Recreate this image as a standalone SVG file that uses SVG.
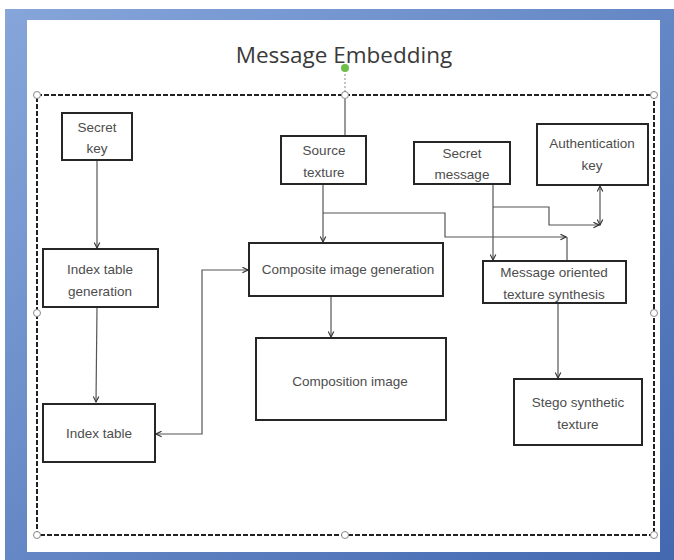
<svg xmlns="http://www.w3.org/2000/svg" width="674" height="560" viewBox="0 0 674 560">
<style>
.box{fill:#fff;stroke:#262626;stroke-width:2}
.t{font-family:"Liberation Sans",Arial,sans-serif;font-size:13.5px;fill:#4d4d4d;text-anchor:middle}
.c{fill:none;stroke:#555;stroke-width:1.2}
.h{fill:#fff;stroke:#888;stroke-width:1}
</style>
<defs>
<linearGradient id="bg" x1="0" y1="0" x2="1" y2="1">
<stop offset="0" stop-color="#86a6da"/>
<stop offset="1" stop-color="#4368b0"/>
</linearGradient>
<marker id="a" viewBox="0 0 10 10" refX="9" refY="5" markerWidth="7" markerHeight="7" orient="auto-start-reverse" markerUnits="userSpaceOnUse">
<path d="M1,1 L9,5 L1,9" fill="none" stroke="#333" stroke-width="1.6"/>
</marker>
</defs>
<rect x="0" y="0" width="674" height="560" fill="#fff"/>
<rect x="5" y="9" width="669" height="551" fill="url(#bg)"/>
<rect x="27" y="20" width="633" height="532" fill="#fff"/>
<text x="344" y="63" font-family="'Open Sans','Liberation Sans',sans-serif" font-size="22.5" fill="#3a3a3a" text-anchor="middle">Message Embedding</text>
<g id="selection">
<rect x="37" y="95" width="617" height="440" fill="none" stroke="#222" stroke-width="2" stroke-dasharray="5,2"/>
<line x1="345" y1="70" x2="345" y2="95" stroke="#888" stroke-dasharray="2,2"/>
<circle cx="345" cy="68" r="4" fill="#6cc04a"/>
<circle class="h" cx="37" cy="95" r="3.5"/>
<circle class="h" cx="345" cy="95" r="3.5"/>
<circle class="h" cx="654" cy="95" r="3.5"/>
<circle class="h" cx="37" cy="313" r="3.5"/>
<circle class="h" cx="654" cy="313" r="3.5"/>
<circle class="h" cx="37" cy="535" r="3.5"/>
<circle class="h" cx="345" cy="535" r="3.5"/>
<circle class="h" cx="654" cy="535" r="3.5"/>
</g>
<g id="connectors">
<line class="c" x1="345" y1="99" x2="345" y2="136"/>
<line class="c" x1="97" y1="160" x2="97" y2="248" marker-end="url(#a)"/>
<line class="c" x1="97" y1="307" x2="96" y2="402" marker-end="url(#a)"/>
<path class="c" d="M156,434 H202 V270 H248" marker-start="url(#a)" marker-end="url(#a)"/>
<line class="c" x1="323" y1="184" x2="323" y2="242" marker-end="url(#a)"/>
<path class="c" d="M323,213 H445 V237 H566" marker-end="url(#a)"/>
<line class="c" x1="567" y1="237" x2="567" y2="261"/>
<line class="c" x1="493" y1="184" x2="493" y2="260" marker-end="url(#a)"/>
<path class="c" d="M493,207 H549 V225 H599" marker-end="url(#a)"/>
<line class="c" x1="600" y1="186" x2="600" y2="225" marker-start="url(#a)" marker-end="url(#a)"/>
<line class="c" x1="331" y1="296" x2="331" y2="337" marker-end="url(#a)"/>
<line class="c" x1="558" y1="303" x2="558" y2="378" marker-end="url(#a)"/>
</g>
<g id="secret-key"><rect class="box" x="62" y="113" width="70" height="47"/><text class="t" x="97" y="132">Secret</text><text class="t" x="97" y="153">key</text></g>
<g id="index-table-generation"><rect class="box" x="43" y="249" width="115" height="58"/><text class="t" x="100" y="274">Index table</text><text class="t" x="100" y="296">generation</text></g>
<g id="index-table"><rect class="box" x="43" y="404" width="112" height="58"/><text class="t" x="99" y="438">Index table</text></g>
<g id="source-texture"><rect class="box" x="281" y="136" width="85" height="48"/><text class="t" x="324" y="155">Source</text><text class="t" x="324" y="177">texture</text></g>
<g id="secret-message"><rect class="box" x="414" y="142" width="96" height="42"/><text class="t" x="462" y="158">Secret</text><text class="t" x="462" y="179">message</text></g>
<g id="authentication-key"><rect class="box" x="537" y="124" width="111" height="61"/><text class="t" x="592" y="148">Authentication</text><text class="t" x="592" y="170">key</text></g>
<g id="composite-image-generation"><rect class="box" x="249" y="243" width="194" height="53"/><text class="t" x="348" y="274">Composite image generation</text></g>
<g id="composition-image"><rect class="box" x="256" y="338" width="190" height="82"/><text class="t" x="350" y="386">Composition image</text></g>
<g id="message-oriented-texture-synthesis"><rect class="box" x="483" y="261" width="143" height="42"/><text class="t" x="554" y="277">Message oriented</text><text class="t" x="554" y="299">texture synthesis</text></g>
<g id="stego-synthetic-texture"><rect class="box" x="514" y="379" width="128" height="66"/><text class="t" x="578" y="407">Stego synthetic</text><text class="t" x="578" y="429">texture</text></g>
</svg>
